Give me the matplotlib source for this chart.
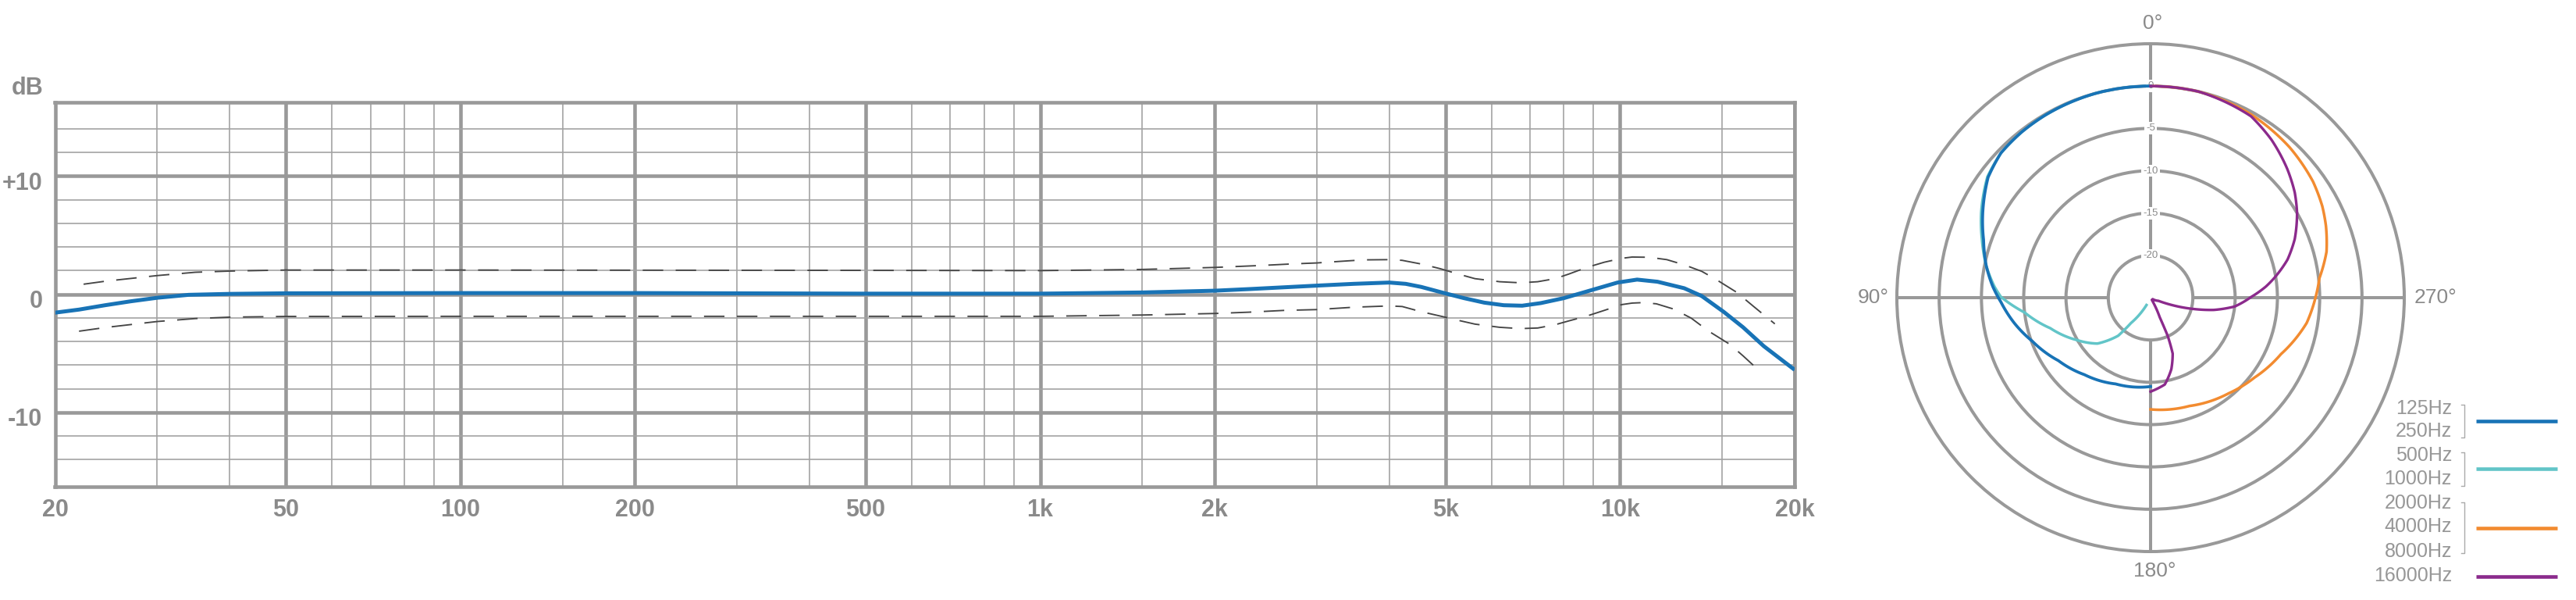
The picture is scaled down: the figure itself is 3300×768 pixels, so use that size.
import numpy as np
import matplotlib
matplotlib.use('Agg')
import matplotlib.pyplot as plt
from matplotlib.ticker import NullFormatter

plt.rcParams['font.family'] = ['Liberation Sans', 'DejaVu Sans']

# --- frequency response (dB vs Hz) ---
freq_main = [20, 22, 24.4, 27, 30, 34, 40, 50, 100, 200, 500, 1000, 1500, 2000, 2300, 3000,
             3470, 4000, 4270, 4540, 5000, 5380, 5830, 6300, 6780, 7300, 8000, 9060, 9900,
             10700, 11600, 12900, 13830, 15100, 16300, 17700, 20000]
db_main = [-1.56, -1.3, -0.93, -0.6, -0.3, -0.05, 0.03, 0.08, 0.1, 0.1, 0.05, 0.05, 0.15, 0.3,
           0.44, 0.73, 0.88, 0.99, 0.88, 0.62, 0.07, -0.33, -0.71, -0.93, -0.97, -0.75, -0.33,
           0.44, 0.99, 1.24, 1.06, 0.51, -0.15, -1.5, -2.8, -4.4, -6.4]

freq_upper = [22.4, 24.4, 30, 34.9, 40, 50, 100, 500, 1000, 1500, 2000, 2390, 2700, 3000,
              3280, 3610, 4000, 4210, 4540, 4900, 5250, 5620, 6200, 6730, 7210, 7730, 8170,
              8760, 9390, 10060, 10490, 11230, 12040, 12900, 13830, 14610, 15870, 17000, 18490]
db_upper = [0.85, 1.1, 1.58, 1.86, 1.96, 2.05, 2.05, 2.02, 2.0, 2.1, 2.27, 2.43, 2.56, 2.65,
            2.78, 2.91, 2.93, 2.87, 2.56, 2.16, 1.72, 1.32, 1.06, 0.97, 1.06, 1.32, 1.72,
            2.27, 2.71, 3.04, 3.15, 3.13, 2.93, 2.49, 1.94, 1.28, 0.18, -1.04, -2.51]

freq_lower = [22, 24.4, 30, 34.9, 40, 50, 100, 500, 1000, 1500, 2000, 2290, 2630, 3000, 3470,
              4000, 4210, 4540, 4900, 5250, 5620, 6200, 6730, 7210, 7730, 8170, 8760, 9390,
              10060, 10490, 10930, 11550, 12380, 13270, 14220, 15450, 16300, 17250]
db_lower = [-3.13, -2.82, -2.31, -2.06, -1.94, -1.88, -1.87, -1.87, -1.87, -1.76, -1.63, -1.52,
            -1.37, -1.3, -1.1, -0.99, -1.04, -1.48, -1.85, -2.2, -2.53, -2.8, -2.91, -2.86,
            -2.58, -2.25, -1.85, -1.37, -0.88, -0.75, -0.71, -0.81, -1.26, -2.03, -3.13,
            -4.23, -5.22, -6.33]

x_major = [20, 50, 100, 200, 500, 1000, 2000, 5000, 10000, 20000]
x_labels = ['20', '50', '100', '200', '500', '1k', '2k', '5k', '10k', '20k']
x_minor = [30, 40, 60, 70, 80, 90, 150, 300, 400, 600, 700, 800, 900, 1500,
           3000, 4000, 6000, 7000, 8000, 9000, 15000]
y_major = [-10, 0, 10]
y_labels = ['-10', '0', '+10']
y_minor = [-14, -12, -8, -6, -4, -2, 2, 4, 6, 8, 12, 14]

# --- polar pattern (degrees, dB) ---
ang_125 = [0, 15, 30, 38, 46, 53.5, 63.4, 70.9, 79, 86, 91.7, 100.5, 110.2, 124.3, 139.3, 157.9, 180]
db_125 = [0, 0, -0.1, -0.2, -0.4, -1.1, -2.8, -4.1, -5.2, -6.3, -7.3, -8.6, -10.1, -11.8, -13.0, -14.0, -14.5]

ang_500 = [0, 15, 30, 38, 46, 53.5, 63.4, 70.9, 79, 86, 89.7, 96.7, 106.9, 119.6, 130.8, 139.6, 142.3, 151]
db_500 = [0, 0, -0.1, -0.2, -0.4, -1.0, -2.6, -3.9, -5.2, -6.5, -7.3, -10.0, -12.6, -14.9, -16.7, -19.1, -21.2, -24.0]

ang_2k = [0, -13.2, -28.6, -42.9, -54.5, -62, -67.8, -75.4, -83.4, -90, -99.2, -113.4, -127.5, -140.7, -160.2, -180]
db_2k = [0, 0, -0.3, -0.8, -1.4, -2.0, -2.6, -3.5, -4.9, -5.5, -6.3, -8.2, -9.5, -10.4, -11.4, -11.8]

ang_16k = [0, -13.2, -29, -37.5, -46.7, -53.9, -60, -67.9, -74.5, -81, -84.5, -89.6, -96, -101,
           -105, -109, -112, -125, -150, -154.9, -155.8, -158.4, -163.8, -170.7, -180]
db_16k = [0, 0, -0.5, -1.5, -2.8, -3.9, -5.0, -6.6, -8.2, -10.2, -11.3, -13.1, -15.0, -17.4,
          -19.9, -22.3, -24.0, -24.7, -24.7, -22.45, -20.1, -17.9, -16.2, -14.6, -13.9]

r_rings = [-20, -15, -10, -5, 0]
r_ring_labels = ['-20', '-15', '-10', '-5', '0']

legend_names = ['125Hz', '250Hz', '500Hz', '1000Hz', '2000Hz', '4000Hz', '8000Hz', '16000Hz']

c_blue = '#1873b6'
c_cyan = '#62c5c8'
c_orange = '#f28b30'
c_purple = '#8b2a8c'
gray_txt = '#8a8a8a'
gray_grid = '#999999'

W, H = 3300, 768
fig = plt.figure(figsize=(W / 100, H / 100), dpi=100)


def box(x0, y0, x1, y1):
    return [x0 / W, 1 - y1 / H, (x1 - x0) / W, (y1 - y0) / H]


# Frequency response
ax = fig.add_axes(box(70.5, 131, 2299, 623))
ax.set_xscale('log')
ax.set_xlim(20, 20000)
ax.set_ylim(-16.3, 16.25)
ax.set_xticks(x_major)
ax.set_xticklabels(x_labels)
ax.set_xticks(x_minor, minor=True)
ax.xaxis.set_minor_formatter(NullFormatter())
ax.set_yticks(y_major)
ax.set_yticklabels([])
ax.set_yticks(y_minor, minor=True)
ax.grid(which='major', color=gray_grid, lw=3.3)
ax.grid(which='minor', color='#a3a3a3', lw=1.2)
ax.tick_params(which='both', length=0)
ax.tick_params(axis='x', labelsize=22, labelcolor=gray_txt, pad=11)
for lab in ax.get_xticklabels():
    lab.set_fontweight('bold')
for s in ax.spines.values():
    s.set_color(gray_grid)
    s.set_linewidth(3.3)
ax.set_axisbelow(True)

for v, t in zip(y_major, y_labels):
    ax.text(-0.0072, v - 0.6, t, transform=ax.get_yaxis_transform(), ha='right', va='center',
            fontsize=22, fontweight='bold', color=gray_txt)

ax.plot(freq_upper, db_upper, color='#454545', lw=1.35, ls=(0, (14, 8.5)), zorder=3)
ax.plot(freq_lower, db_lower, color='#454545', lw=1.35, ls=(0, (14, 8.5)), zorder=3)
ax.plot(freq_main, db_main, color=c_blue, lw=3.6, zorder=4, solid_capstyle='butt',
        solid_joinstyle='round')

# Polar pattern
pax = fig.add_axes(box(2430, 56, 3080, 706), projection='polar')
pax.set_theta_zero_location('N')
pax.set_theta_direction(1)
pax.set_ylim(-25, 5)
pax.set_xticks([])
pax.set_yticks(r_rings)
pax.set_yticklabels([])
pax.yaxis.grid(True, color=gray_grid, lw=2.9)
pax.spines['polar'].set_color(gray_grid)
pax.spines['polar'].set_linewidth(2.9)
for a in [0, 90, 180, 270]:
    pax.plot([np.deg2rad(a)] * 2, [-20, 5], color=gray_grid, lw=2.9, zorder=1, solid_capstyle='butt')
for r, t in zip(r_rings, r_ring_labels):
    pax.text(0, r, t, ha='center', va='center', fontsize=9.5, color=gray_txt, zorder=2,
             bbox=dict(boxstyle='square,pad=0.15', fc='white', ec='none'))

polar_series = [(ang_500, db_500, c_cyan, 2.5, 3),
                (ang_125, db_125, c_blue, 2.7, 4),
                (ang_2k, db_2k, c_orange, 2.5, 3),
                (ang_16k, db_16k, c_purple, 2.4, 4)]
for angs, dbs, col, lw, z in polar_series:
    ln, = pax.plot(np.deg2rad(angs), dbs, color=col, lw=lw, zorder=z, solid_joinstyle='round')
    # let the polar transform draw each segment as a curve, like the gridlines
    ln.get_path()._interpolation_steps = 40

# overlay in pixel coordinates for labels and legend
lax = fig.add_axes([0, 0, 1, 1], facecolor='none')
lax.set_xlim(0, W)
lax.set_ylim(H, 0)
lax.axis('off')

lax.text(56, 113, 'dB', ha='right', va='center', fontsize=22, fontweight='bold', color=gray_txt)

lax.text(2758, 30, '0°', ha='center', va='center', fontsize=19, color=gray_txt)
lax.text(2400, 381, '90°', ha='center', va='center', fontsize=19, color=gray_txt)
lax.text(2760, 731, '180°', ha='center', va='center', fontsize=19, color=gray_txt)
lax.text(3120, 381, '270°', ha='center', va='center', fontsize=19, color=gray_txt)

ys = [523, 552, 583, 613, 644, 674, 706, 737]
for y, t in zip(ys, legend_names):
    lax.text(3141, y, t, ha='right', va='center', fontsize=18, color='#979797')

for (y0, y1) in [(518, 560), (579, 622), (643, 708)]:
    lax.plot([3153, 3157, 3157, 3153], [y0, y0, y1, y1], color='#aaaaaa', lw=1.0)

for y, c in zip([539, 600, 676, 738], [c_blue, c_cyan, c_orange, c_purple]):
    lax.plot([3172, 3276], [y, y], color=c, lw=3.3, solid_capstyle='butt')

fig.savefig('out.png', dpi=100)
